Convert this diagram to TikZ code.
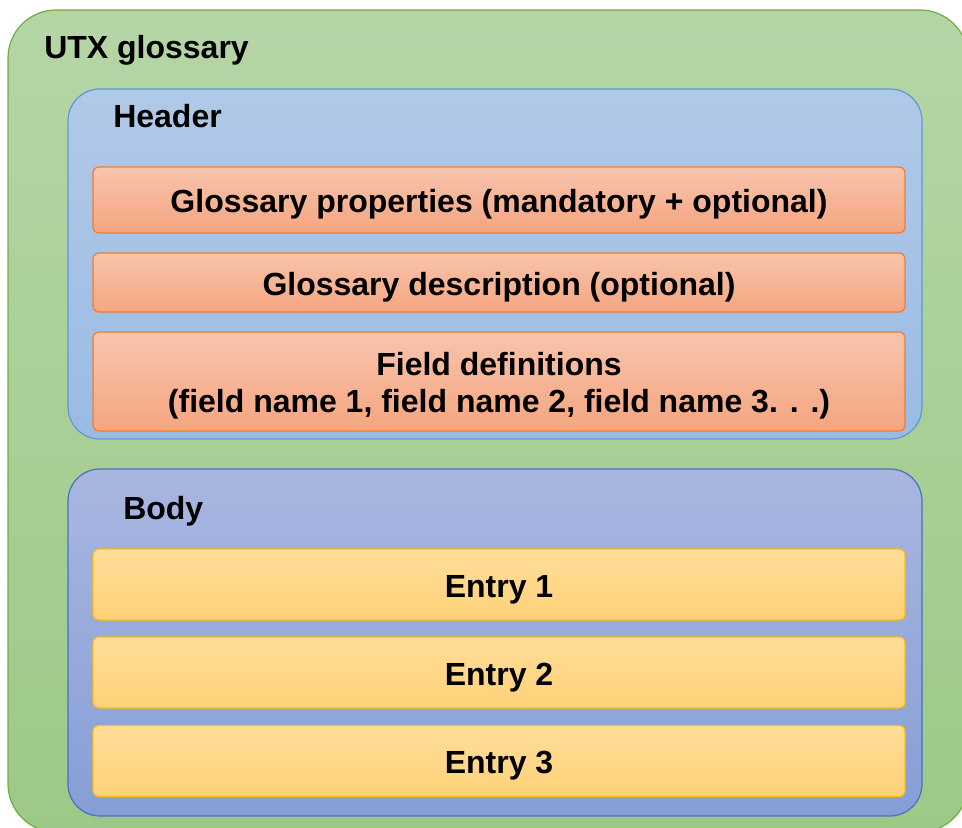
\documentclass[tikz,border=0pt]{standalone}
\usepackage{fontspec}
\setmainfont{Liberation Sans}
\definecolor{grtop}{HTML}{B5D5A6}
\definecolor{grbot}{HTML}{9DC986}
\definecolor{grline}{HTML}{70AD47}
\definecolor{bltop}{HTML}{B1C9E8}
\definecolor{blbot}{HTML}{99BBE4}
\definecolor{blline}{HTML}{5B9BD5}
\definecolor{ortop}{HTML}{F8C4AC}
\definecolor{orbot}{HTML}{F4A580}
\definecolor{orline}{HTML}{ED7D31}
\definecolor{bdtop}{HTML}{A9B6E0}
\definecolor{bdbot}{HTML}{869ED6}
\definecolor{bdline}{HTML}{4472C4}
\definecolor{yetop}{HTML}{FFDD98}
\definecolor{yebot}{HTML}{FED178}
\definecolor{yeline}{HTML}{FFC000}
\newcommand\pxu{0.75pt}

\begin{document}
\begin{tikzpicture}[x=0.75pt, y=-0.75pt,
        font=\fontsize{24}{27.75}\selectfont\bfseries,
        panel/.style={draw, line width=0.9pt, rounded corners=24pt, minimum width=854*\pxu},
        hbar/.style={draw=orline, line width=0.9pt, rounded corners=4.5pt, top color=ortop, bottom color=orbot,
                     minimum width=812*\pxu, align=center},
        oneline/.style={text height=24pt, text depth=4.6pt},
        ebar/.style={draw=yeline, line width=0.9pt, rounded corners=4.5pt, top color=yetop, bottom color=yebot,
                     minimum width=812*\pxu, minimum height=71*\pxu, oneline},
        title/.style={anchor=base west, inner sep=0pt}]
    \useasboundingbox (0,0) rectangle (962,827);
    \clip (0,0) rectangle (962,827);
    % outer frame
    \node[draw=grline, line width=0.9pt, rounded corners=36pt, top color=grtop, bottom color=grbot,
          minimum width=960*\pxu, minimum height=822*\pxu] (utx) at (488,421) {};
    \node[title] (utxlabel) at (44,59) {UTX glossary};
    % header
    \node[panel, draw=blline, top color=bltop, bottom color=blbot, minimum height=350*\pxu] (header) at (495,264) {};
    \node[title] (headerlabel) at (113,128) {Header};
    \node[hbar, oneline, minimum height=66*\pxu] (props) at (499,200) {Glossary properties (mandatory + optional)};
    \node[hbar, oneline, minimum height=59*\pxu] (descr) at (499,282.5) {Glossary description (optional)};
    \node[hbar, minimum height=99*\pxu] (fields) at (499,381.5)
        {\rule{0pt}{1em}Field definitions\\(field name 1, field name 2, field name 3. . .)};
    % body
    \node[panel, draw=bdline, top color=bdtop, bottom color=bdbot, minimum height=347*\pxu] (body) at (495,642.5) {};
    \node[title] (bodylabel) at (123,519) {Body};
    \foreach \i/\y in {1/584.5, 2/672.5, 3/761}
        \node[ebar] (entry\i) at (499,\y) {Entry \i};
\end{tikzpicture}
\end{document}
